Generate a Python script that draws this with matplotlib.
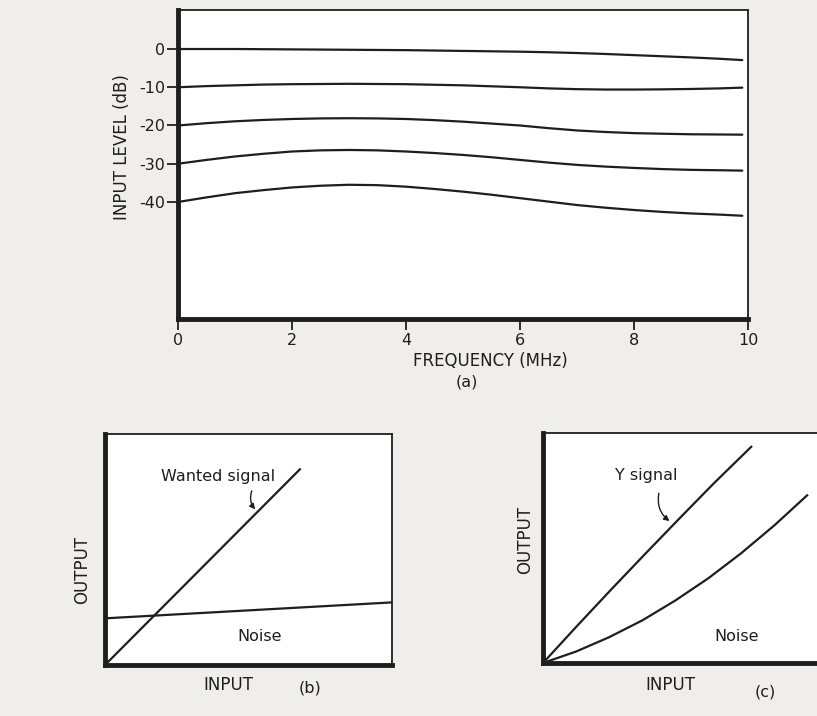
import numpy as np
import matplotlib
matplotlib.use("Agg")
import matplotlib.pyplot as plt

# (a) input level vs frequency, one curve per starting level
freq = [0, 0.5, 1, 1.5, 2, 2.5, 3, 3.5, 4, 4.5, 5, 5.5, 6, 6.5, 7, 7.5, 8, 8.5, 9, 9.5, 9.9]
lvl_0  = [0, 0, 0, -0.05, -0.1, -0.15, -0.2, -0.25, -0.3, -0.4, -0.5, -0.6, -0.7,
          -0.85, -1.05, -1.3, -1.6, -1.9, -2.2, -2.55, -2.9]
lvl_10 = [-10, -9.7, -9.5, -9.3, -9.2, -9.15, -9.1, -9.15, -9.2, -9.35, -9.5, -9.75, -10.0,
          -10.3, -10.5, -10.6, -10.6, -10.55, -10.45, -10.3, -10.1]
lvl_20 = [-20, -19.4, -18.9, -18.55, -18.3, -18.15, -18.1, -18.15, -18.3, -18.6, -19.0, -19.5,
          -20.0, -20.7, -21.3, -21.7, -22.0, -22.15, -22.3, -22.35, -22.4]
lvl_30 = [-30, -29.0, -28.1, -27.4, -26.8, -26.5, -26.4, -26.5, -26.8, -27.2, -27.7, -28.3,
          -29.0, -29.7, -30.3, -30.75, -31.1, -31.4, -31.6, -31.7, -31.8]
lvl_40 = [-40, -38.8, -37.7, -36.9, -36.2, -35.75, -35.5, -35.6, -36.0, -36.6, -37.3, -38.1,
          -39.0, -39.9, -40.8, -41.5, -42.1, -42.6, -43.0, -43.3, -43.6]
xticks_a = [0, 2, 4, 6, 8, 10]
yticks_a = [0, -10, -20, -30, -40]

# (b) wanted signal and noise vs input
wanted_x = [0, 0.679]
wanted_y = [0, 0.847]
noise_b_x = [0, 1]
noise_b_y = [0.202, 0.271]

# (c) Y signal and noise vs input
ysig_x = [0, 0.125, 0.25, 0.375, 0.5, 0.625, 0.76]
ysig_y = [0, 0.162, 0.321, 0.477, 0.631, 0.783, 0.94]
noise_c_x = [0, 0.121, 0.241, 0.362, 0.482, 0.603, 0.723, 0.844, 0.964]
noise_c_y = [0, 0.050, 0.112, 0.185, 0.271, 0.368, 0.477, 0.598, 0.729]

W, H = 817, 716
paper = "#efeeea"
ink = "#1e1e1e"
plt.rcParams["font.family"] = ["DejaVu Sans"]

fig = plt.figure(figsize=(W / 100, H / 100), dpi=100, facecolor=paper)

def box(l, t, r, b):
    return [l / W, 1 - b / H, (r - l) / W, (b - t) / H]

def style(ax, thin=1.3, thick=3.5):
    ax.set_facecolor("white")
    for s in ["top", "right"]:
        ax.spines[s].set_linewidth(thin)
        ax.spines[s].set_color(ink)
    for s in ["left", "bottom"]:
        ax.spines[s].set_linewidth(thick)
        ax.spines[s].set_color(ink)

# ---- panel (a)
ax = fig.add_axes(box(178, 10, 748, 319))
style(ax)
for lv in [lvl_0, lvl_10, lvl_20, lvl_30, lvl_40]:
    ax.plot(freq, lv, color=ink, lw=1.6, solid_capstyle="round", solid_joinstyle="round")
ax.set_xlim(0, 10)
ax.set_ylim(-70.6, 10.2)
ax.set_xticks(xticks_a)
ax.set_yticks(yticks_a)
ax.set_yticklabels([str(v) for v in yticks_a])
ax.tick_params(direction="out", length=8, width=1.3, color=ink, labelcolor=ink,
               labelsize=11.5)
ax.tick_params(axis="y", pad=1)
ax.tick_params(axis="x", pad=2)
fig.text(490 / W, 1 - 361 / H, "FREQUENCY (MHz)", ha="center", va="center",
         fontsize=12, color=ink)
fig.text(467 / W, 1 - 382 / H, "(a)", ha="center", va="center",
         fontsize=11.5, color=ink)
fig.text(122 / W, 1 - 147 / H, "INPUT LEVEL (dB)", ha="center", va="center",
         rotation=90, fontsize=12, color=ink)

# ---- panel (b)
axb = fig.add_axes(box(105, 434, 392, 665))
style(axb)
axb.plot(wanted_x, wanted_y, color=ink, lw=1.6)
axb.plot(noise_b_x, noise_b_y, color=ink, lw=1.6)
axb.set_xlim(0, 1)
axb.set_ylim(0, 1)
axb.set_xticks([])
axb.set_yticks([])
axb.text(0.395, 0.815, "Wanted signal", ha="center", va="center", fontsize=11.5, color=ink)
axb.text(0.54, 0.123, "Noise", ha="center", va="center", fontsize=11.5, color=ink)
axb.annotate("", xy=(0.53, 0.665), xytext=(0.515, 0.765),
             arrowprops=dict(arrowstyle="-|>", color=ink, lw=1.0,
                             connectionstyle="arc3,rad=0.35", mutation_scale=8))
fig.text(228 / W, 1 - 685 / H, "INPUT", ha="center", va="center", fontsize=12, color=ink)
fig.text(310 / W, 1 - 688 / H, "(b)", ha="center", va="center", fontsize=11.5, color=ink)
fig.text(82 / W, 1 - 570 / H, "OUTPUT", ha="center", va="center", rotation=90,
         fontsize=12, color=ink)

# ---- panel (c)
axc = fig.add_axes(box(543, 433, 817, 663))
style(axc)
axc.spines["right"].set_visible(False)
axc.plot(ysig_x, ysig_y, color=ink, lw=1.6, solid_joinstyle="round")
axc.plot(noise_c_x, noise_c_y, color=ink, lw=1.6, solid_joinstyle="round")
axc.set_xlim(0, 1)
axc.set_ylim(0, 1)
axc.set_xticks([])
axc.set_yticks([])
axc.text(0.378, 0.817, "Y signal", ha="center", va="center", fontsize=11.5, color=ink)
axc.text(0.707, 0.114, "Noise", ha="center", va="center", fontsize=11.5, color=ink)
axc.annotate("", xy=(0.47, 0.61), xytext=(0.425, 0.75),
             arrowprops=dict(arrowstyle="-|>", color=ink, lw=1.0,
                             connectionstyle="arc3,rad=0.35", mutation_scale=8))
fig.text(670 / W, 1 - 685 / H, "INPUT", ha="center", va="center", fontsize=12, color=ink)
fig.text(765 / W, 1 - 692 / H, "(c)", ha="center", va="center", fontsize=11.5, color=ink)
fig.text(525 / W, 1 - 540 / H, "OUTPUT", ha="center", va="center", rotation=90,
         fontsize=12, color=ink)

fig.savefig("out.png", dpi=100, facecolor=paper)
